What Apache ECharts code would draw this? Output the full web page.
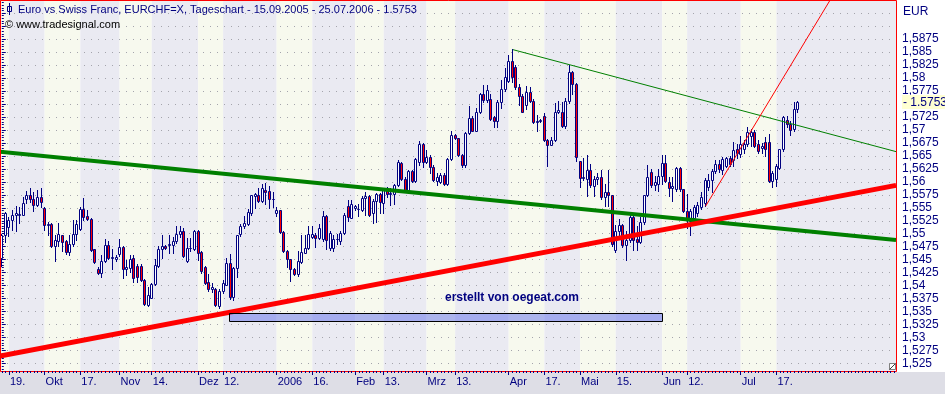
<!DOCTYPE html>
<html><head><meta charset="utf-8">
<script src="https://cdn.jsdelivr.net/npm/echarts@6/dist/echarts.min.js"></script>
<style>html,body{margin:0;padding:0;background:#fff}#c{width:945px;height:394px}</style>
</head><body><div id="c"></div>
<script>
// ---------- data ----------
const startDate = '2005-09-15';          // first trading day (weekdays only)
const categoryCount = 251;               // weekdays shown on the axis (incl. empty future space)
const tickLabels = {2:'19.',12:'Okt',22:'17.',33:'Nov',42:'14.',55:'Dez',62:'12.',77:'2006',87:'16.',99:'Feb',107:'13.',119:'Mrz',127:'13.',142:'Apr',152:'17.',162:'Mai',172:'15.',185:'Jun',192:'12.',207:'Jul',217:'17.'};
const stripeBounds = [-0.5,2,12,22,33,42,55,62,77,87,99,107,119,127,142,152,162,172,185,192,207,217,250.5];

const opens = [1.5453,1.5497,1.5513,1.5526,1.5536,1.5537,1.5537,1.5566,1.5574,1.5566,1.5556,1.5570,1.5549,1.5516,1.5519,1.5476,1.5486,1.5497,1.5486,1.5465,1.5480,1.5500,1.5510,1.5547,1.5534,1.5528,1.5470,1.5433,1.5424,1.5447,1.5478,1.5454,1.5451,1.5461,1.5474,1.5433,1.5435,1.5454,1.5437,1.5437,1.5411,1.5363,1.5377,1.5404,1.5437,
1.5471,1.5476,1.5479,1.5479,1.5486,1.5499,1.5505,1.5447,1.5472,1.5471,1.5505,1.5465,1.5436,1.5408,1.5394,1.5393,1.5360,1.5390,1.5402,1.5443,1.5378,1.5435,1.5499,1.5515,1.5519,1.5540,1.5573,1.5574,1.5563,1.5585,1.5582,1.5567,1.5540,1.5545,1.5503,1.5467,1.5451,1.5433,1.5422,1.5446,1.5463,1.5472,1.5494,1.5498,1.5492,
1.5489,1.5534,1.5472,1.5472,1.5489,1.5486,1.5502,1.5553,1.5531,1.5549,1.5547,1.5545,1.5569,1.5572,1.5540,1.5563,1.5576,1.5560,1.5586,1.5576,1.5577,1.5593,1.5637,1.5606,1.5585,1.5620,1.5602,1.5639,1.5673,1.5639,1.5647,1.5629,1.5601,1.5599,1.5613,1.5596,1.5644,1.5690,1.5684,1.5651,1.5633,1.5694,1.5722,1.5698,1.5734,1.5769,1.5757,1.5760,1.5724,1.5718,1.5753,1.5779,1.5795,1.5833,1.5821,1.5782,1.5766,1.5748,1.5772,1.5756,1.5715,1.5717,1.5726,1.5681,1.5670,1.5680,1.5734,1.5734,1.5707,1.5755,1.5812,1.5788,1.5641,1.5607,1.5606,1.5623,1.5592,1.5606,1.5610,1.5570,1.5580,1.5574,1.5468,1.5506,1.5517,1.5478,1.5487,1.5532,1.5489,1.5484,1.5522,1.5574,1.5619,1.5593,1.5596,1.5612,1.5637,1.5599,1.5589,
1.5586,1.5626,1.5586,1.5544,1.5525,1.5530,1.5540,1.5551,1.5560,1.5590,1.5603,1.5621,1.5634,1.5622,1.5631,1.5646,1.5642,1.5663,1.5653,1.5663,1.5672,1.5688,1.5695,1.5672,1.5666,1.5676,1.5676,1.5602,1.5605,1.5627,1.5663,1.5719,1.5712,1.5701,1.5740];
const closes = [1.5497,1.5539,1.5526,1.5536,1.5540,1.5538,1.5560,1.5574,1.5566,1.5556,1.5570,1.5562,1.5516,1.5519,1.5476,1.5488,1.5499,1.5485,1.5465,1.5480,1.5500,1.5519,1.5547,1.5533,1.5528,1.5469,1.5446,1.5424,1.5447,1.5478,1.5454,1.5456,1.5456,1.5474,1.5433,1.5436,1.5452,1.5414,1.5417,1.5411,1.5364,1.5382,1.5404,1.5440,1.5471,
1.5476,1.5472,1.5481,1.5486,1.5500,1.5505,1.5457,1.5472,1.5473,1.5505,1.5463,1.5428,1.5406,1.5394,1.5397,1.5363,1.5390,1.5406,1.5444,1.5378,1.5435,1.5497,1.5515,1.5521,1.5542,1.5574,1.5576,1.5563,1.5588,1.5581,1.5567,1.5566,1.5545,1.5503,1.5467,1.5451,1.5433,1.5422,1.5447,1.5465,1.5472,1.5500,1.5499,1.5492,1.5512,
1.5534,1.5487,1.5502,1.5489,1.5490,1.5502,1.5537,1.5532,1.5558,1.5553,1.5548,1.5569,1.5572,1.5537,1.5563,1.5576,1.5562,1.5586,1.5576,1.5578,1.5593,1.5639,1.5606,1.5581,1.5621,1.5602,1.5644,1.5673,1.5639,1.5647,1.5629,1.5603,1.5610,1.5613,1.5596,1.5644,1.5690,1.5684,1.5651,1.5633,1.5694,1.5722,1.5698,1.5734,1.5769,1.5757,1.5776,1.5721,1.5718,1.5753,1.5779,1.5801,1.5833,1.5801,1.5782,1.5766,1.5735,1.5772,1.5756,1.5715,1.5718,1.5719,1.5681,1.5670,1.5680,1.5734,1.5738,1.5707,1.5755,1.5812,1.5788,1.5647,1.5607,1.5610,1.5623,1.5593,1.5606,1.5610,1.5570,1.5580,1.5574,1.5480,1.5506,1.5517,1.5478,1.5487,1.5532,1.5487,1.5485,1.5522,1.5574,1.5609,1.5593,1.5600,1.5612,1.5637,1.5602,1.5589,1.5592,
1.5626,1.5586,1.5544,1.5528,1.5544,1.5552,1.5556,1.5570,1.5603,1.5603,1.5621,1.5634,1.5624,1.5644,1.5646,1.5634,1.5661,1.5655,1.5672,1.5672,1.5695,1.5695,1.5669,1.5660,1.5669,1.5664,1.5602,1.5617,1.5631,1.5663,1.5724,1.5711,1.5699,1.5740,1.5753];
const lows = [1.5438,1.5485,1.5495,1.5507,1.5505,1.5520,1.5536,1.5560,1.5561,1.5544,1.5553,1.5552,1.5507,1.5498,1.5475,1.5448,1.5476,1.5467,1.5461,1.5459,1.5476,1.5488,1.5508,1.5526,1.5526,1.5466,1.5444,1.5422,1.5417,1.5446,1.5452,1.5433,1.5448,1.5458,1.5414,1.5420,1.5427,1.5408,1.5408,1.5409,1.5363,1.5360,1.5376,1.5402,1.5436,
1.5453,1.5470,1.5463,1.5462,1.5483,1.5494,1.5456,1.5446,1.5466,1.5469,1.5450,1.5425,1.5404,1.5389,1.5387,1.5360,1.5357,1.5385,1.5401,1.5375,1.5372,1.5417,1.5496,1.5512,1.5517,1.5537,1.5550,1.5561,1.5561,1.5558,1.5549,1.5551,1.5534,1.5502,1.5465,1.5436,1.5409,1.5420,1.5419,1.5444,1.5462,1.5470,1.5491,1.5474,1.5490,
1.5486,1.5470,1.5468,1.5467,1.5480,1.5480,1.5500,1.5524,1.5530,1.5545,1.5535,1.5543,1.5537,1.5535,1.5520,1.5522,1.5539,1.5539,1.5570,1.5555,1.5558,1.5591,1.5604,1.5580,1.5579,1.5599,1.5600,1.5633,1.5629,1.5636,1.5617,1.5601,1.5593,1.5597,1.5594,1.5594,1.5642,1.5683,1.5650,1.5629,1.5629,1.5692,1.5697,1.5697,1.5732,1.5753,1.5754,1.5719,1.5705,1.5705,1.5742,1.5774,1.5792,1.5792,1.5779,1.5747,1.5734,1.5740,1.5753,1.5714,1.5697,1.5715,1.5679,1.5630,1.5670,1.5678,1.5733,1.5705,1.5704,1.5752,1.5769,1.5641,1.5590,1.5604,1.5573,1.5590,1.5572,1.5596,1.5567,1.5554,1.5554,1.5477,1.5464,1.5497,1.5475,1.5449,1.5484,1.5468,1.5468,1.5483,1.5519,1.5573,1.5590,1.5585,1.5582,1.5595,1.5600,1.5572,1.5563,
1.5583,1.5583,1.5541,1.5512,1.5498,1.5524,1.5535,1.5548,1.5553,1.5585,1.5580,1.5617,1.5619,1.5615,1.5628,1.5630,1.5631,1.5646,1.5648,1.5655,1.5668,1.5668,1.5667,1.5655,1.5655,1.5650,1.5600,1.5590,1.5592,1.5625,1.5660,1.5705,1.5690,1.5697,1.5735];
const highs = [1.5499,1.5541,1.5533,1.5546,1.5553,1.5551,1.5571,1.5582,1.5589,1.5581,1.5584,1.5589,1.5551,1.5522,1.5521,1.5497,1.5521,1.5498,1.5488,1.5497,1.5526,1.5526,1.5552,1.5568,1.5545,1.5530,1.5471,1.5436,1.5459,1.5489,1.5486,1.5470,1.5459,1.5489,1.5477,1.5449,1.5459,1.5459,1.5442,1.5441,1.5412,1.5398,1.5405,1.5451,1.5476,
1.5497,1.5479,1.5497,1.5494,1.5515,1.5515,1.5512,1.5491,1.5491,1.5508,1.5508,1.5467,1.5438,1.5423,1.5406,1.5396,1.5393,1.5410,1.5453,1.5461,1.5436,1.5498,1.5518,1.5534,1.5548,1.5575,1.5579,1.5589,1.5595,1.5598,1.5592,1.5580,1.5551,1.5546,1.5505,1.5468,1.5452,1.5435,1.5466,1.5497,1.5497,1.5515,1.5515,1.5502,1.5518,
1.5544,1.5536,1.5505,1.5498,1.5500,1.5505,1.5540,1.5565,1.5564,1.5556,1.5558,1.5572,1.5581,1.5574,1.5566,1.5579,1.5579,1.5588,1.5590,1.5588,1.5596,1.5642,1.5639,1.5610,1.5623,1.5623,1.5645,1.5679,1.5674,1.5662,1.5652,1.5633,1.5617,1.5616,1.5617,1.5645,1.5698,1.5692,1.5685,1.5653,1.5695,1.5745,1.5726,1.5743,1.5771,1.5787,1.5787,1.5769,1.5727,1.5758,1.5796,1.5819,1.5845,1.5855,1.5824,1.5788,1.5769,1.5785,1.5782,1.5759,1.5728,1.5721,1.5733,1.5682,1.5686,1.5752,1.5756,1.5754,1.5762,1.5825,1.5814,1.5791,1.5641,1.5645,1.5651,1.5634,1.5612,1.5616,1.5622,1.5596,1.5622,1.5575,1.5516,1.5528,1.5519,1.5506,1.5542,1.5535,1.5515,1.5532,1.5575,1.5632,1.5624,1.5612,1.5625,1.5651,1.5652,1.5609,1.5609,
1.5629,1.5629,1.5586,1.5576,1.5547,1.5555,1.5562,1.5580,1.5608,1.5615,1.5624,1.5642,1.5642,1.5647,1.5648,1.5650,1.5676,1.5672,1.5688,1.5680,1.5706,1.5701,1.5700,1.5680,1.5675,1.5686,1.5692,1.5620,1.5634,1.5663,1.5727,1.5727,1.5717,1.5753,1.5755];
const lastClose = 1.5753;

// trend lines / annotations, [category index, price]
const thickRedLine   = [[-0.5, 1.52643], [250.5, 1.55931]];
const thickGreenLine = [[-0.5, 1.56581], [250.5, 1.54880]];
const thinGreenLine  = [[143.2, 1.58544], [250.5, 1.56581]];
const thinRedLine    = [[197.15, 1.55529], [240, 1.60404]];
const blueBox        = [[63.7, 1.53465], [185.1, 1.53312]];

// ---------- build ----------
function weekdays(start, n) {
  const out = []; const d = new Date(start + 'T12:00:00Z');
  while (out.length < n) {
    const wd = d.getUTCDay();
    if (wd !== 0 && wd !== 6) out.push(d.toISOString().slice(0, 10));
    d.setUTCDate(d.getUTCDate() + 1);
  }
  return out;
}
const categories = weekdays(startDate, categoryCount);
const candleRows = opens.map((o, i) => [i, o, closes[i], lows[i], highs[i]]);

const navy = '#000080';
const fontFam = '"Liberation Sans", Arial, sans-serif';
const yMin = 1.5225, yMax = 1.595;
const frameBottomValue = 1.523567;
const stripes = [];
for (let i = 0; i < stripeBounds.length - 1; i++) stripes.push([stripeBounds[i], stripeBounds[i + 1], i % 2]);

function renderCandle(p, api) {
  const i = api.value(0), o = api.value(1), c = api.value(2), l = api.value(3), h = api.value(4);
  const po = api.coord([i, o]), pc = api.coord([i, c]), pl = api.coord([i, l]), ph = api.coord([i, h]);
  const col = Math.floor(po[0]);
  const yo = Math.round(po[1]), yc = Math.round(pc[1]), yl = Math.round(pl[1]), yh = Math.round(ph[1]);
  const top = Math.min(yo, yc), bot = Math.max(yo, yc);
  return { type: 'group', children: [
    { type: 'line', shape: { x1: col + 0.5, y1: yh, x2: col + 0.5, y2: yl + 1 }, style: { stroke: navy, lineWidth: 1 } },
    { type: 'rect', shape: { x: col - 0.5, y: top + 0.5, width: 2, height: bot - top },
      style: { fill: c >= o ? '#ffffff' : '#ff0000', stroke: navy, lineWidth: 1 } }
  ] };
}

const chart = echarts.init(document.getElementById('c'));
chart.setOption({
  animation: false,
  backgroundColor: '#ffffff',
  grid: { left: 0, width: 896, top: -2.74, height: 379.32 },
  xAxis: [
    { type: 'category', data: categories, position: 'bottom', offset: -5.58, boundaryGap: true, z: 20,
      axisLine: { show: false, onZero: false },
      axisTick: { show: true, interval: 0, length: 2, alignWithLabel: true, lineStyle: { color: navy } },
      axisLabel: { show: false }, splitLine: { show: false } },
    { type: 'category', data: categories, position: 'bottom', offset: -5.58, boundaryGap: true, z: 20,
      axisLine: { show: false, onZero: false },
      axisTick: { show: true, length: 4, alignWithLabel: true, interval: (i) => (i in tickLabels), lineStyle: { color: navy } },
      axisLabel: { show: true, interval: (i) => (i in tickLabels), formatter: (v, i) => tickLabels[i] || '',
        align: 'left', padding: [0, 0, 0, 1], margin: 5, color: navy, fontFamily: fontFam, fontSize: 11 },
      splitLine: { show: false } },
    { type: 'value', min: -0.5, max: categoryCount - 0.5, show: false }
  ],
  yAxis: {
    type: 'value', position: 'right', min: yMin, max: yMax, interval: 0.0025, z: 3,
    axisLine: { show: false },
    axisTick: { show: true, length: 4, lineStyle: { color: navy } },
    minorTick: { show: true, splitNumber: 5, length: 2, lineStyle: { color: navy } },
    axisLabel: { margin: 6, color: navy, fontFamily: fontFam, fontSize: 12,
      formatter: (v) => (v > 1.588 || v < 1.524) ? '' : String(+v.toFixed(4)).replace('.', ',') },
    splitLine: { show: true, lineStyle: { color: '#a4a4ac', type: [1, 6], width: 1 } }
  },
  series: [
    { type: 'custom', name: 'stripes', xAxisIndex: 2, yAxisIndex: 0, z: 1, silent: true, data: stripes,
      encode: { x: [0, 1] },
      renderItem: (p, api) => {
        const a = api.coord([api.value(0), yMax]);
        const b = api.coord([api.value(1), frameBottomValue]);
        return { type: 'rect', shape: { x: a[0], y: a[1], width: b[0] - a[0], height: b[1] - a[1] },
          style: { fill: api.value(2) ? '#eaeaf2' : '#f7f9ee' } };
      } },
    { type: 'custom', name: 'EURCHF', xAxisIndex: 0, yAxisIndex: 0, z: 5, silent: true, data: candleRows,
      encode: { x: 0, y: [1, 2, 3, 4] }, renderItem: renderCandle },
    { type: 'line', xAxisIndex: 2, data: thickGreenLine, symbol: 'none', z: 6, lineStyle: { color: '#008000', width: 4 } },
    { type: 'line', xAxisIndex: 2, data: thickRedLine, symbol: 'none', z: 6, lineStyle: { color: '#ff0000', width: 5 } },
    { type: 'line', xAxisIndex: 2, data: thinGreenLine, symbol: 'none', z: 6, lineStyle: { color: '#008000', width: 1 } },
    { type: 'line', xAxisIndex: 2, data: thinRedLine, symbol: 'none', z: 6, lineStyle: { color: '#ff0000', width: 1 } },
    { type: 'custom', name: 'box', xAxisIndex: 2, yAxisIndex: 0, z: 7, silent: true, data: [[blueBox[0][0], blueBox[1][0], blueBox[0][1], blueBox[1][1]]],
      encode: { x: [0, 1], y: [2, 3] },
      renderItem: (p, api) => {
        const a = api.coord([api.value(0), api.value(2)]);
        const b = api.coord([api.value(1), api.value(3)]);
        return { type: 'rect', shape: { x: Math.round(a[0]) + 0.5, y: Math.round(a[1]) + 0.5, width: Math.round(b[0] - a[0]), height: Math.round(b[1] - a[1]) },
          style: { fill: 'rgba(70,85,235,0.42)', stroke: '#000000', lineWidth: 1 } };
      } }
  ]
});

const py = chart.convertToPixel({ yAxisIndex: 0 }, lastClose);
chart.setOption({
  graphic: [
    { type: 'rect', z: 10, silent: true, shape: { x: 0, y: 372, width: 945, height: 22 }, style: { fill: '#dedee6' } },
    { type: 'rect', z: 15, silent: true, shape: { x: 0.5, y: 0.5, width: 896, height: 371 }, style: { fill: null, stroke: '#ff0000', lineWidth: 1 } },
    { type: 'rect', z: 16, silent: true, shape: { x: 7.5, y: 6.5, width: 4, height: 5 }, style: { fill: null, stroke: navy, lineWidth: 1 } },
    { type: 'line', z: 16, silent: true, shape: { x1: 9.5, y1: 3, x2: 9.5, y2: 15 }, style: { stroke: navy, lineWidth: 1 } },
    { type: 'text', z: 16, silent: true, x: 18, y: 10, style: { text: 'Euro vs Swiss Franc, EURCHF=X, Tageschart - 15.09.2005 - 25.07.2006 - 1.5753', fill: navy, font: '11px ' + fontFam, verticalAlign: 'middle' } },
    { type: 'text', z: 16, silent: true, x: 5, y: 25, style: { text: '\u00a9 www.tradesignal.com', fill: '#000000', font: '11px ' + fontFam, verticalAlign: 'middle' } },
    { type: 'text', z: 16, silent: true, x: 512, y: 298, style: { text: 'erstellt von oegeat.com', fill: navy, font: 'bold 12px ' + fontFam, align: 'center', verticalAlign: 'middle' } },
    { type: 'text', z: 16, silent: true, x: 903, y: 12, style: { text: 'EUR', fill: navy, font: '12px ' + fontFam, verticalAlign: 'middle' } },
    { type: 'rect', z: 16, silent: true, shape: { x: 902, y: Math.round(py) - 7, width: 43, height: 14 }, style: { fill: '#ffffd2' } },
    { type: 'text', z: 17, silent: true, x: 903, y: py, style: { text: '- 1.5753', fill: navy, font: '12px ' + fontFam, verticalAlign: 'middle' } },
    { type: 'rect', z: 16, silent: true, shape: { x: 889.5, y: 363.5, width: 6, height: 6 }, style: { fill: '#ffffff', stroke: '#808080', lineWidth: 1 } },
    { type: 'line', z: 16, silent: true, shape: { x1: 889.5, y1: 369.5, x2: 895.5, y2: 363.5 }, style: { stroke: '#404040', lineWidth: 1 } }
  ]
});
</script>
</body></html>
